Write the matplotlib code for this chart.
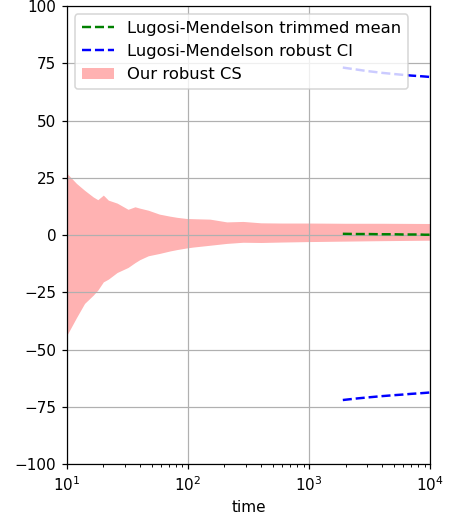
import matplotlib
matplotlib.use("Agg")
import matplotlib.pyplot as plt

# robust confidence sequence (band)
cs_time = [10, 12, 14, 16.5, 18, 20, 22, 26, 32, 36.5, 40, 47, 58, 71, 81, 97,
           110, 152, 209, 285, 400, 600, 1000, 2000, 4000, 10000]
cs_upper = [27, 22.6, 19.6, 16.7, 15.5, 17.5, 15.3, 14.0, 11.3, 12.4, 11.8, 10.9,
            9.2, 8.3, 7.8, 7.3, 7.2, 7.0, 5.8, 6.0, 5.4, 5.3, 5.3, 5.2, 5.2, 5.1]
cs_lower = [-43.7, -36, -29.8, -26.2, -24, -20.4, -19.2, -16.3, -14.1, -12, -10.7,
            -9.0, -8.0, -6.9, -6.3, -5.6, -5.2, -4.4, -3.6, -3.1, -3.2, -3.0, -2.8,
            -2.6, -2.4, -2.2]

# Lugosi-Mendelson estimator and CI
lm_time = [1900, 2500, 3000, 4000, 5000, 6000, 7000, 8000, 9000, 10000]
lm_mean = [0.6, 0.5, 0.5, 0.4, 0.4, 0.3, 0.3, 0.3, 0.2, 0.2]
lm_lower = [-72.0, -71.3, -70.9, -70.3, -69.9, -69.6, -69.3, -69.1, -68.9, -68.7]
lm_upper = [73.2, 72.3, 71.7, 70.9, 70.4, 70.0, 69.7, 69.5, 69.3, 69.1]

fig, ax = plt.subplots(figsize=(449 / 110, 518 / 110), dpi=110)

ax.plot(lm_time, lm_mean, '--', color='green', lw=1.6, label='Lugosi-Mendelson trimmed mean')
ax.plot(lm_time, lm_lower, '--', color='blue', lw=1.6, label='Lugosi-Mendelson robust CI')
ax.plot(lm_time, lm_upper, '--', color='blue', lw=1.6)
ax.fill_between(cs_time, cs_lower, cs_upper, color='red', alpha=0.3,
                linewidth=0, label='Our robust CS')

ax.set_xscale('log')
ax.set_xlim(10, 10000)
ax.set_ylim(-100, 100)
ax.set_xlabel('time')
ax.grid(True)
ax.legend(loc='upper left', fontsize=10.7)

fig.subplots_adjust(left=0.149, right=0.958, top=0.988, bottom=0.104)
fig.savefig('out.png', dpi=110)
